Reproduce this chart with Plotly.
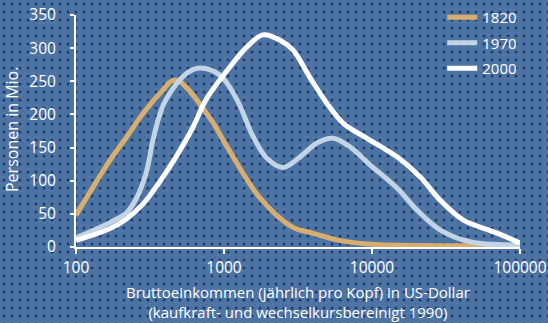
import plotly.graph_objects as go

# Einkommen (US-Dollar) und Personen (Mio.) je Jahr
income_1820 = [100, 130, 170, 220, 285, 370, 470, 800, 1050, 1750, 2900, 3800, 6000, 10000, 30000, 100000]
persons_1820 = [48, 90, 131, 166, 202, 232, 252, 195, 151, 74, 30, 22, 10, 4, 2, 2]

income_1970 = [100, 167, 218, 254, 297, 331, 364, 405, 560, 690, 940, 1225, 1570, 1950, 2500, 3270,
               4250, 5450, 7100, 9700, 14750, 20100, 28800, 45900, 100000]
persons_1970 = [14, 36, 51, 72, 111, 161, 196, 222, 262, 270, 259, 222, 167, 134, 120, 136,
                157, 164, 151, 124, 89, 56, 26, 8, 3]

income_2000 = [100, 167, 218, 284, 364, 474, 618, 755, 1100, 1430, 1835, 2390, 2930, 3800, 4950,
               6370, 9250, 14750, 21100, 28800, 41200, 70000, 100000]
persons_2000 = [10, 27, 42, 65, 97, 136, 181, 222, 272, 302, 320, 312, 297, 256, 217,
                187, 164, 136, 106, 71, 41, 21, 6]

x_ticks = [100, 1000, 10000, 100000]
x_ticktext = ["100", "1000", "10000", "100000"]
y_ticks = [0, 50, 100, 150, 200, 250, 300, 350]

x_title = "Bruttoeinkommen (jährlich pro Kopf) in US-Dollar<br>(kaufkraft- und wechselkursbereinigt 1990)"
y_title = "Personen in Mio."

BG = "#4e74a4"
DOT = "#1d3e74"
FONT = "Open Sans, sans-serif"

W, H = 548, 323
# Plotbereich in Pixeln
L, R, T, B = 76, 520, 15, 247

fig = go.Figure()

# gepunkteter Hintergrund (Rasterstruktur) ueber die ganze Flaeche
fig.add_trace(go.Scatter(
    x=[0, 1, 1, 0, 0], y=[0, 0, 1, 1, 0],
    mode="lines", fill="toself",
    line=dict(width=0),
    fillcolor=BG,
    fillpattern=dict(shape=".", bgcolor=BG, fgcolor=DOT, size=8, solidity=0.12, fillmode="replace"),
    showlegend=False, hoverinfo="skip",
    xaxis="x", yaxis="y",
))

series = [
    ("1820", income_1820, persons_1820, "#d8ae6f"),
    ("1970", income_1970, persons_1970, "#c3d4e5"),
    ("2000", income_2000, persons_2000, "#ffffff"),
]
for name, xs, ys, color in series:
    fig.add_trace(go.Scatter(
        x=xs, y=ys, name=name, mode="lines", legendgroup=name,
        line=dict(color=color, width=5, shape="spline", smoothing=1.0),
        hoverinfo="x+y",
        xaxis="x2", yaxis="y2",
    ))

fig.update_layout(
    width=W, height=H,
    paper_bgcolor=BG,
    plot_bgcolor="rgba(0,0,0,0)",
    margin=dict(l=0, r=0, t=0, b=0, autoexpand=False),
    font=dict(family=FONT, color="white", size=14),
    showlegend=True,
    legend=dict(
        x=0.807, y=1 - 1 / H, xanchor="left", yanchor="top",
        bgcolor="rgba(0,0,0,0)",
        font=dict(size=15, color="white"),
        traceorder="grouped",
        tracegroupgap=3,
    ),
    xaxis=dict(domain=[0, 1], range=[0, 1], visible=False, fixedrange=True),
    yaxis=dict(domain=[0, 1], range=[0, 1], visible=False, fixedrange=True),
    xaxis2=dict(
        type="log",
        domain=[L / W, R / W],
        anchor="y2",
        range=[2, 5],
        tickvals=x_ticks,
        ticktext=x_ticktext,
        showgrid=False,
        zeroline=False,
        showline=True, linecolor="white", linewidth=2,
        ticks="outside", ticklen=5, tickwidth=2, tickcolor="white",
        tickfont=dict(size=15.5, color="white"),
        automargin=False,
    ),
    yaxis2=dict(
        domain=[1 - B / H, 1 - T / H],
        anchor="x2",
        range=[0, 350],
        tickvals=y_ticks,
        showgrid=False,
        zeroline=False,
        showline=True, linecolor="white", linewidth=2,
        ticks="outside", ticklen=4, tickwidth=2, tickcolor="white",
        tickfont=dict(size=15.5, color="white"),
        ticklabelstandoff=11,
        automargin=False,
    ),
    annotations=[
        dict(
            text=x_title,
            xref="paper", yref="paper",
            x=(L + R) / 2 / W, y=1 - 302 / H,
            xanchor="center", yanchor="middle",
            showarrow=False,
            font=dict(size=15, color="white"),
        ),
        dict(
            text=y_title,
            xref="paper", yref="paper",
            x=12 / W, y=1 - 130 / H,
            xanchor="center", yanchor="middle",
            textangle=-90,
            showarrow=False,
            font=dict(size=16, color="white"),
        ),
    ],
)

# Seitenrand des Browsers entfernen, damit die Grafik genau ins Fenster passt
fig.write_html("out.html", config={"displayModeBar": False},
               post_script="document.body.style.margin='0';")
